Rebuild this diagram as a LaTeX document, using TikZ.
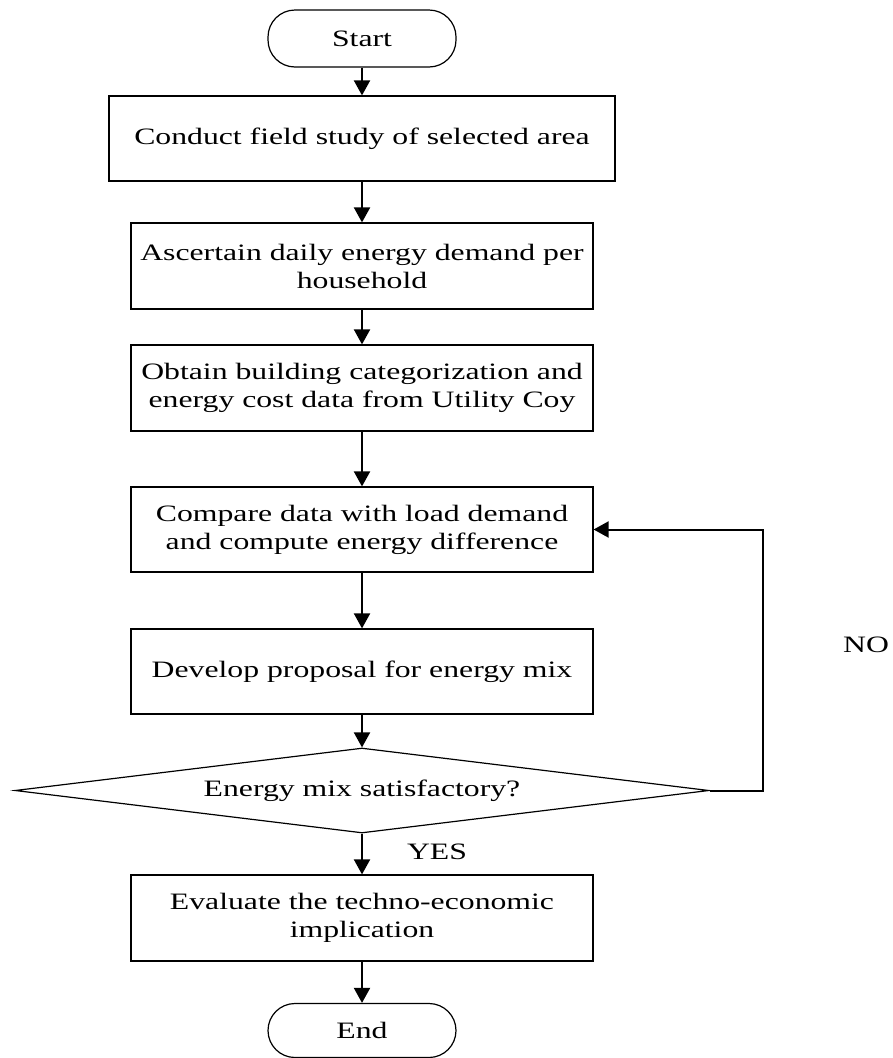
\documentclass[tikz,border=0pt]{standalone}
\usepackage{fontspec}
\setmainfont{Liberation Serif}[FakeStretch=1.35]
\usetikzlibrary{arrows.meta,shapes.geometric}
\begin{document}
\begin{tikzpicture}[x=1pt,y=-1pt,
  txt/.style={font=\fontsize{23.5}{28}\selectfont},
  box/.style={draw,line width=1.2pt,minimum width=462pt,minimum height=86pt,inner sep=0pt,align=center,txt},
  term/.style={draw,line width=1.2pt,rounded corners=27pt,minimum width=188pt,inner sep=0pt,txt},
  decision/.style={draw,line width=1.2pt,diamond,aspect=8.16,minimum width=694pt,minimum height=85pt,inner sep=0pt,txt},
  conn/.style={line width=2pt,-{Triangle[length=15pt,width=16pt]}}]
\useasboundingbox (0,0) rectangle (892,1058);
\node[term,minimum height=57pt] (start) at (362,38.5) {Start};
\node[box,minimum width=506pt,minimum height=85pt] (b1) at (362,138.5) {Conduct field study of selected area};
\node[box] (b2) at (362,266) {Ascertain daily energy demand per\\household};
\node[box] (b3) at (362,388) {Obtain building categorization and\\energy cost data from Utility Coy};
\node[box,minimum height=85pt] (b4) at (362,529.5) {Compare data with load demand\\and compute energy difference};
\node[box,minimum height=85pt] (b5) at (362,671.5) {Develop proposal for energy mix};
\node[decision] (dec) at (362,790.5) {Energy mix satisfactory?};
\node[box] (b6) at (362,918) {Evaluate the techno-economic\\implication};
\node[term,minimum height=54pt] (end) at (362,1030.5) {End};
\node[txt] (yes) at (437,852) {YES};
\node[txt] (no) at (866,645) {NO};
\coordinate (loop) at (763,790.5);
\draw[conn] (start) -- (b1);
\draw[conn] (b1) -- (b2);
\draw[conn] (b2) -- (b3);
\draw[conn] (b3) -- (b4);
\draw[conn] (b4) -- (b5);
\draw[conn] (b5) -- (dec);
\draw[conn] (dec) -- (b6);
\draw[conn] (b6) -- (end);
\draw[conn] (dec.east) -- (loop) |- (b4.east);
\end{tikzpicture}
\end{document}
